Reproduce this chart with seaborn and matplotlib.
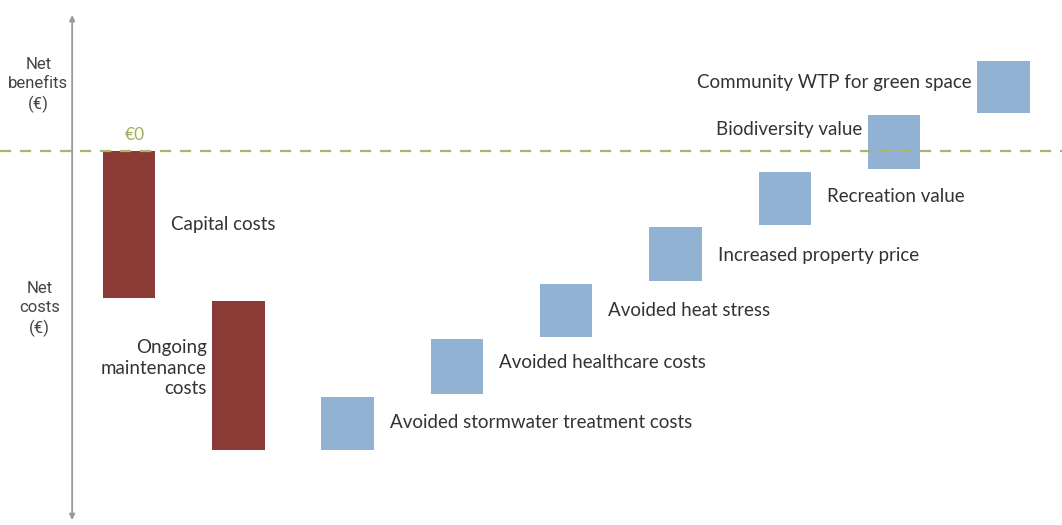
import numpy as np
import matplotlib
matplotlib.use("Agg")
import matplotlib.pyplot as plt
import seaborn as sns

# waterfall items (arbitrary € units)
labels = ["Capital costs", "Ongoing\nmaintenance\ncosts", "Avoided stormwater treatment costs",
          "Avoided healthcare costs", "Avoided heat stress", "Increased property price",
          "Recreation value", "Biodiversity value", "Community WTP for green space"]
values = [-147, -149, 53, 55, 53, 54, 53, 54, 52]
kind = ["cost", "cost", "benefit", "benefit", "benefit", "benefit", "benefit", "benefit", "benefit"]
label_side = ["right", "left", "right", "right", "right", "right", "right", "left", "left"]
label_dy = [0, 7, 0, 4, 0, -1, 1, 12, 4]

palette = {"cost": "#8b3a35", "benefit": "#91b2d2"}
gap = 2.5

sns.set_style("white")
plt.rcParams["font.family"] = ["Lato", "DejaVu Sans"]

fig = plt.figure(figsize=(10.62, 5.25), dpi=100)
ax = fig.add_axes([0, 0, 1, 1])

# running totals, with a small gap between consecutive steps of the same sign
bottoms, tops = [], []
level = 0.0
prev = None
for v in values:
    start = level
    if prev is not None and np.sign(prev) == np.sign(v):
        start = level + np.sign(v) * gap
    bottoms.append(start)
    tops.append(start + v)
    level = start + v
    prev = v

xs = np.arange(len(values))
width = 0.48
for x, b, v, k in zip(xs, bottoms, values, kind):
    ax.bar(x, v, bottom=b, width=width, color=palette[k], linewidth=0)

# zero line
ax.axhline(0, color="#a8b56a", linestyle=(0, (5, 4)), linewidth=1.6, zorder=3)
ax.text(xs[0] + 0.05, 8, "€0", color="#9fae5c", fontsize=12.5, ha="center", va="bottom")

# labels next to each bar
for x, b, t, lab, side, dy in zip(xs, bottoms, tops, labels, label_side, label_dy):
    mid = (b + t) / 2 + dy
    if side == "right":
        ax.text(x + width / 2 + 0.145, mid, lab, ha="left", va="center",
                fontsize=13.5, color="#333333")
    else:
        ax.text(x - width / 2 - 0.05, mid, lab, ha="right", va="center",
                fontsize=13.5, color="#333333", multialignment="right", linespacing=1.25)

# vertical axis with arrows at both ends
ax.annotate("", xy=(-0.52, 136), xytext=(-0.52, 0),
            arrowprops=dict(arrowstyle="-|>", color="#999999", lw=1.3,
                            mutation_scale=8, shrinkA=0, shrinkB=0))
ax.annotate("", xy=(-0.52, -369), xytext=(-0.52, 0),
            arrowprops=dict(arrowstyle="-|>", color="#999999", lw=1.3,
                            mutation_scale=8, shrinkA=0, shrinkB=0))

ax.text(-0.83, 66, "Net\nbenefits\n(€)", ha="center", va="center", fontsize=12,
        color="#444444", family=["Roboto", "DejaVu Sans"], linespacing=1.35)
ax.text(-0.82, -158, "Net\ncosts\n(€)", ha="center", va="center", fontsize=12,
        color="#444444", family=["Roboto", "DejaVu Sans"], linespacing=1.35)

ax.set_xlim(-1.18, 8.536)
ax.set_ylim(-374, 151)
ax.axis("off")

fig.savefig("out.png", dpi=100, facecolor="white")
